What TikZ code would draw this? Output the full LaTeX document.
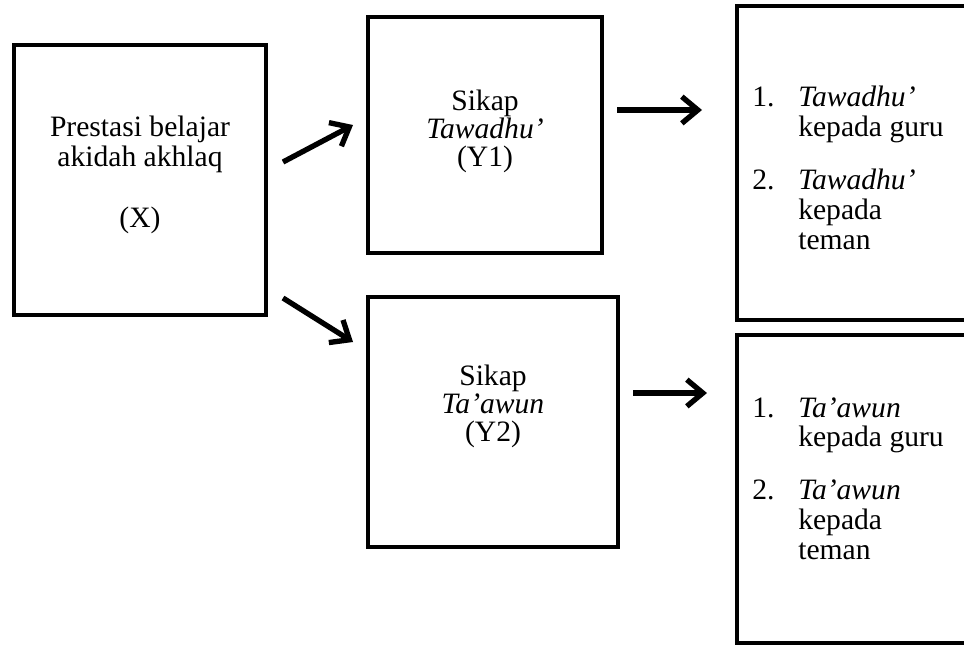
\documentclass[tikz,border=0pt]{standalone}
\usepackage{fontspec}
\setmainfont{Liberation Serif}
\usetikzlibrary{arrows.meta}
\begin{document}
\begin{tikzpicture}[x=0.75pt,y=-0.75pt,
  box/.style={draw, line width=3pt, inner sep=0pt},
  lbl/.style={font=\fontsize{22.2}{22.5}\selectfont, anchor=base, inner sep=0pt},
  lbw/.style={lbl, anchor=base west},
  arr/.style={line width=4pt, -{Straight Barb[length=12pt,width=20pt]}}]
\useasboundingbox (0,0) rectangle (964,644);
\clip (0,0) rectangle (964,644);
% boxes
\node[box, minimum width=189pt, minimum height=202.5pt] (X) at (140,180) {};
\node[box, minimum width=175.5pt, minimum height=177pt] (Y1) at (485,135) {};
\node[box, minimum width=187.5pt, minimum height=187.5pt] (Y2) at (493,422) {};
\node[box, minimum width=197.25pt, minimum height=235.5pt] (R1) at (868.5,163) {};
\node[box, minimum width=197.25pt, minimum height=231pt] (R2) at (868.5,489) {};
% texts
\node[lbl] (x1) at (140,136) {Prestasi belajar};
\node[lbl] (x2) at (140,166) {akidah akhlaq};
\node[lbl] (x3) at (140,227) {(X)};
\node[lbl] (a1) at (485,110) {Sikap};
\node[lbl] (a2) at (485,138) {\itshape Tawadhu’};
\node[lbl] (a3) at (485,166) {(Y1)};
\node[lbl] (b1) at (493,385) {Sikap};
\node[lbl] (b2) at (493,413) {\itshape Ta’awun};
\node[lbl] (b3) at (493,441) {(Y2)};
\node[lbw] (r1n) at (752,106) {1.};
\node[lbw] (r1a) at (798,106) {\itshape Tawadhu’};
\node[lbw] (r1b) at (798,136) {kepada guru};
\node[lbw] (r2n) at (752,189) {2.};
\node[lbw] (r2a) at (798,189) {\itshape Tawadhu’};
\node[lbw] (r2b) at (798,219) {kepada};
\node[lbw] (r2c) at (798,249) {teman};
\node[lbw] (s1n) at (752,417) {1.};
\node[lbw] (s1a) at (798,417) {\itshape Ta’awun};
\node[lbw] (s1b) at (798,446) {kepada guru};
\node[lbw] (s2n) at (752,499) {2.};
\node[lbw] (s2a) at (798,499) {\itshape Ta’awun};
\node[lbw] (s2b) at (798,529) {kepada};
\node[lbw] (s2c) at (798,559) {teman};
% arrow ends
\coordinate (p1) at (283,162); \coordinate (q1) at (353,125);
\coordinate (p2) at (283,298); \coordinate (q2) at (353,342);
\coordinate (p3) at (617,110); \coordinate (q3) at (702,110);
\coordinate (p4) at (633,393); \coordinate (q4) at (707,393);
\draw[arr] (p1) -- (q1);
\draw[arr] (p2) -- (q2);
\draw[arr] (p3) -- (q3);
\draw[arr] (p4) -- (q4);
\end{tikzpicture}
\end{document}
